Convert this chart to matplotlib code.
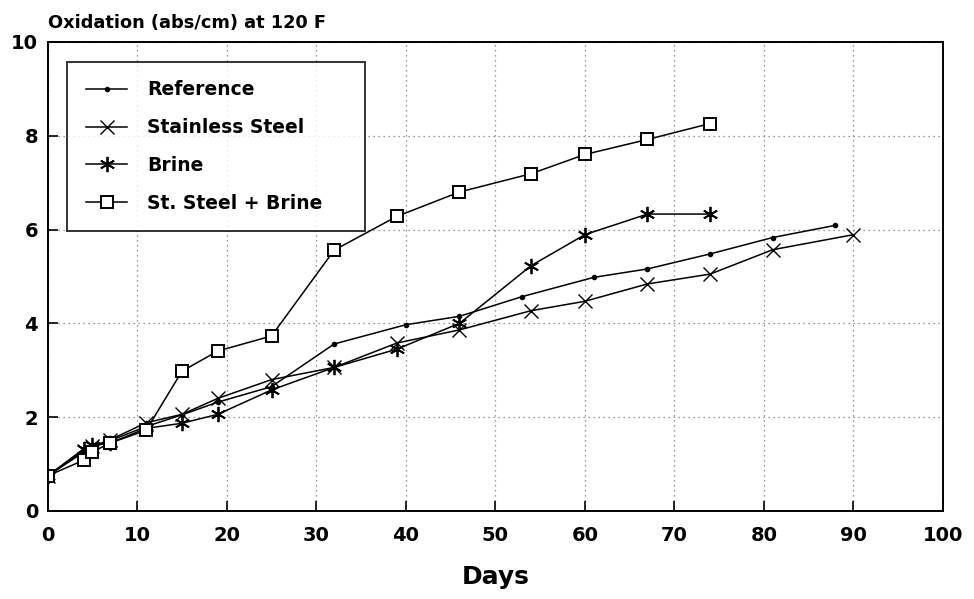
import numpy as np
import matplotlib
matplotlib.use("Agg")
import matplotlib.pyplot as plt

plt.rcParams['font.family'] = ['DejaVu Sans']
plt.rcParams['font.weight'] = 'bold'

# data
ref_days = [0, 4, 5, 7, 11, 15, 19, 25, 32, 40, 46, 53, 61, 67, 74, 81, 88]
ref_vals = [0.75, 1.25, 1.35, 1.5, 1.8, 2.05, 2.32, 2.65, 3.56, 3.97, 4.15,
            4.57, 4.98, 5.16, 5.48, 5.83, 6.09]

ss_days = [0, 4, 5, 7, 11, 15, 19, 25, 32, 39, 46, 54, 60, 67, 74, 81, 90]
ss_vals = [0.75, 1.28, 1.38, 1.52, 1.88, 2.06, 2.4, 2.8, 3.06, 3.58, 3.86,
           4.27, 4.47, 4.84, 5.05, 5.57, 5.89]

brine_days = [0, 4, 5, 7, 11, 15, 19, 25, 32, 39, 46, 54, 60, 67, 74]
brine_vals = [0.75, 1.32, 1.4, 1.45, 1.76, 1.87, 2.06, 2.58, 3.06, 3.45, 4.0,
              5.23, 5.89, 6.33, 6.33]

ssb_days = [0, 4, 5, 7, 11, 15, 19, 25, 32, 39, 46, 54, 60, 67, 74]
ssb_vals = [0.75, 1.08, 1.26, 1.45, 1.72, 2.98, 3.41, 3.73, 5.56, 6.28, 6.8,
            7.19, 7.6, 7.92, 8.26]

x_ticks = list(range(0, 101, 10))
y_ticks = list(range(0, 11, 2))

fig = plt.figure(figsize=(9.74, 5.99), dpi=100)
ax = fig.add_axes([0.049, 0.147, 0.919, 0.783])

lw = 1.1
ax.plot(ref_days, ref_vals, '-', color='black', lw=lw, marker='o',
        markersize=3, label='Reference')
ax.plot(ss_days, ss_vals, '-', color='black', lw=lw, marker='x',
        markersize=10, markeredgewidth=1.0, label='Stainless Steel')
ax.plot(brine_days, brine_vals, '-', color='black', lw=lw, marker=(6, 2, 0),
        markersize=11, markeredgewidth=1.3, label='Brine')
ax.plot(ssb_days, ssb_vals, '-', color='black', lw=lw, marker='s',
        markersize=8, markerfacecolor='white', markeredgewidth=1.4,
        label='St. Steel + Brine')

ax.set_xlim(0, 100)
ax.set_ylim(0, 10)
ax.set_xticks(x_ticks)
ax.set_yticks(y_ticks)
ax.tick_params(direction='in', length=7, width=1.2, labelsize=14)
ax.tick_params(axis='x', pad=11)
ax.tick_params(axis='y', pad=7)
for lab in ax.get_xticklabels() + ax.get_yticklabels():
    lab.set_fontweight('bold')
ax.grid(True, linestyle=(0, (1, 3)), color='#777777', linewidth=0.9)
for sp in ax.spines.values():
    sp.set_linewidth(1.4)

ax.set_xlabel('Days', fontsize=18, fontweight='bold', labelpad=14)
fig.text(0.049, 0.962, 'Oxidation (abs/cm) at 120 F', fontsize=12.8,
         fontweight='bold', va='center', ha='left')

# legend box stretched to the width used in the original
leg = ax.legend(loc='upper left', bbox_to_anchor=(0.022, 0.588, 0.333, 0.37),
                mode='expand', fontsize=13.5, frameon=True, fancybox=False,
                edgecolor='black', labelspacing=1.0, handlelength=2.2,
                borderpad=1.0, handletextpad=1.05, borderaxespad=0)
leg.get_frame().set_linewidth(1.4)
for t in leg.get_texts():
    t.set_fontweight('bold')

fig.savefig('out.png', dpi=100)
